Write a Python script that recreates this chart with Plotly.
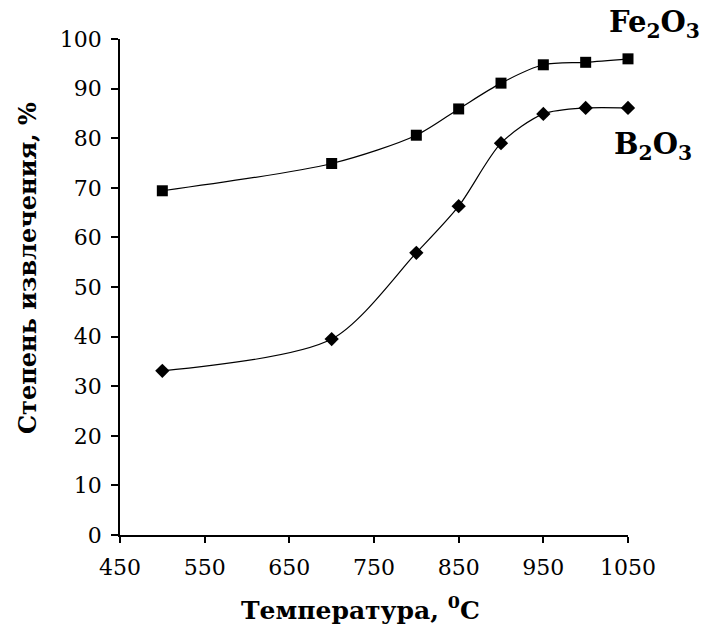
import plotly.graph_objects as go

temperature = [500, 700, 800, 850, 900, 950, 1000, 1050]
fe2o3 = [69.4, 74.9, 80.6, 85.9, 91.1, 94.8, 95.3, 96.0]
b2o3 = [33.1, 39.5, 56.9, 66.3, 79.0, 84.9, 86.1, 86.1]
x_ticks = [450, 550, 650, 750, 850, 950, 1050]
y_ticks = [0, 10, 20, 30, 40, 50, 60, 70, 80, 90, 100]

fig = go.Figure()
fig.add_trace(go.Scatter(
    x=temperature, y=fe2o3, mode="lines+markers", name="Fe2O3",
    line=dict(color="black", width=1.2, shape="spline", smoothing=0.8),
    marker=dict(symbol="square", size=11, color="black"),
    cliponaxis=False, showlegend=False))
fig.add_trace(go.Scatter(
    x=temperature, y=b2o3, mode="lines+markers", name="B2O3",
    line=dict(color="black", width=1.2, shape="spline", smoothing=0.8),
    marker=dict(symbol="diamond", size=11, color="black"),
    cliponaxis=False, showlegend=False))

tick_font = dict(family="DejaVu Serif", size=22, color="black")
title_font = dict(family="DejaVu Serif", size=25, color="black")

fig.update_xaxes(
    range=[450, 1050], tickvals=x_ticks, ticktext=[str(v) for v in x_ticks],
    showline=True, linecolor="black", linewidth=1.5, ticks="outside",
    ticklen=6, tickcolor="black", tickwidth=1.5, showgrid=False, zeroline=False,
    tickfont=tick_font, ticklabelstandoff=6)
fig.update_yaxes(
    range=[0, 100], tickvals=y_ticks,
    showline=True, linecolor="black", linewidth=1.5, ticks="outside",
    ticklen=7, tickcolor="black", tickwidth=1.5, showgrid=False, zeroline=False,
    tickfont=tick_font, ticklabelstandoff=5)

fig.add_annotation(text="<b>Fe<sub>2</sub>O<sub>3</sub></b>", xref="paper", yref="paper",
                   x=(654 - 120) / 508, y=(535 - 24) / 496, showarrow=False,
                   xanchor="center", yanchor="middle",
                   font=dict(family="DejaVu Serif", size=29, color="black"))
fig.add_annotation(text="<b>B<sub>2</sub>O<sub>3</sub></b>", xref="paper", yref="paper",
                   x=(653 - 120) / 508, y=(535 - 146) / 496, showarrow=False,
                   xanchor="center", yanchor="middle",
                   font=dict(family="DejaVu Serif", size=29, color="black"))
fig.add_annotation(text="<b>Степень извлечения, %</b>", xref="paper", yref="paper",
                   x=(27 - 120) / 508, y=(535 - 268) / 496, textangle=-90,
                   showarrow=False, xanchor="center", yanchor="middle",
                   font=dict(family="DejaVu Serif", size=24, color="black"))
fig.add_annotation(text="<b>Температура, <sup>0</sup>C</b>", xref="paper", yref="paper",
                   x=(360 - 120) / 508, y=(535 - 608) / 496,
                   showarrow=False, xanchor="center", yanchor="middle",
                   font=title_font)

fig.update_layout(
    width=713, height=630, autosize=False,
    margin=dict(l=120, r=85, t=39, b=95, autoexpand=False),
    paper_bgcolor="white", plot_bgcolor="white",
)
fig.write_html("out.html")
